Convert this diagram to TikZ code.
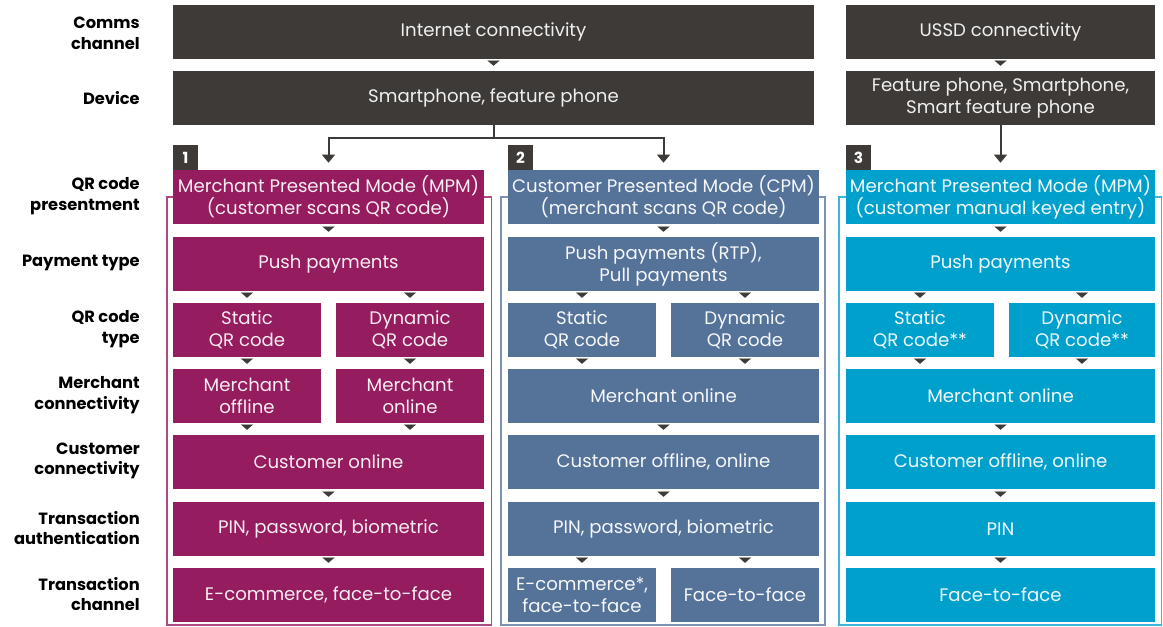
\documentclass[tikz,border=0pt]{standalone}
\usepackage{fontspec}
\setmainfont{Poppins}
\usetikzlibrary{arrows.meta,calc}
\definecolor{dark}{HTML}{3E3A37}
\definecolor{mag}{HTML}{951C5F}
\definecolor{slate}{HTML}{557299}
\definecolor{cyan}{HTML}{00A0CD}
\definecolor{magframe}{HTML}{B04A84}
\definecolor{slateframe}{HTML}{7D93B5}
\definecolor{cyanframe}{HTML}{3DB4DB}
\tikzset{
  bx/.style={rectangle, inner sep=0pt, align=center, font=\fontsize{13.6pt}{16.5pt}\selectfont},
  topc/.style={text=white!92!dark},
  c1/.style={text=white!92!mag},
  c2/.style={text=white!94!slate},
  c3/.style={text=white!94!cyan},
  lbl/.style={anchor=east, inner sep=0pt, align=right, font=\fontsize{12.2pt}{15.5pt}\selectfont\bfseries, text=black},
  badge/.style={rectangle, fill=dark, text=white, inner sep=0pt, minimum width=18.75pt, minimum height=18.75pt, font=\fontsize{11.5pt}{12pt}\selectfont\bfseries},
  gapar/.style={draw=dark, line width=0.1pt, shorten <=2.25pt, shorten >=3.75pt, -{Triangle[width=9pt,length=3.9pt]}},
  conn/.style={draw=dark, line width=1.5pt, shorten >=5.25pt, -{Triangle[width=9.5pt,length=6pt]}},
  frame/.style={line width=1.3pt},
}
\newcommand\bx[8]{\node[bx, #7, fill=#6, minimum width={(#4-#2)*0.75pt}, minimum height={(#5-#3)*0.75pt}] (#1) at ({(#2+#4)/2},{(#3+#5)/2}) {#8};}
\begin{document}
\begin{tikzpicture}[x=0.75pt,y=-0.75pt]
\useasboundingbox (0,0) rectangle (1163,627);
% frames
\draw[frame, magframe] (167,197) rectangle (491.5,625);
\draw[frame, slateframe] (501,197) rectangle (825,625);
\draw[frame, cyanframe] (839,197) rectangle (1161.5,625);
% labels
\node[lbl] (l0) at (140,33) {Comms\\channel};
\node[lbl] (l1) at (140,98) {Device};
\node[lbl] (l2) at (140,196) {QR code\\presentment};
\node[lbl] (l3) at (140,263) {Payment type};
\node[lbl] (l4) at (140,329) {QR code\\type};
\node[lbl] (l5) at (140,395) {Merchant\\connectivity};
\node[lbl] (l6) at (140,461) {Customer\\connectivity};
\node[lbl] (l7) at (140,528) {Transaction\\authentication};
\node[lbl] (l8) at (140,594) {Transaction\\channel};
% top rows
\bx{com1}{173}{5}{814}{59}{dark}{topc}{Internet connectivity}
\bx{com3}{846}{5}{1155}{59}{dark}{topc}{USSD connectivity}
\bx{dev1}{173}{71}{814}{125}{dark}{topc}{Smartphone, feature phone}
\bx{dev3}{846}{71}{1155}{125}{dark}{topc}{Feature phone, Smartphone,\\Smart feature phone}
% column 1
\bx{p1}{173}{170}{484}{224}{mag}{c1}{Merchant Presented Mode (MPM)\\(customer scans QR code)}
\bx{pay1}{173}{237}{484}{291}{mag}{c1}{Push payments}
\bx{st1}{173}{303}{321}{357}{mag}{c1}{Static\\QR code}
\bx{dy1}{336}{303}{484}{357}{mag}{c1}{Dynamic\\QR code}
\bx{mf1}{173}{369}{321}{423}{mag}{c1}{Merchant\\offline}
\bx{mn1}{336}{369}{484}{423}{mag}{c1}{Merchant\\online}
\bx{cu1}{173}{435}{484}{489}{mag}{c1}{Customer online}
\bx{au1}{173}{502}{484}{556}{mag}{c1}{PIN, password, biometric}
\bx{ch1}{173}{568}{484}{622}{mag}{c1}{E-commerce, face-to-face}
% column 2
\bx{p2}{508}{170}{819}{224}{slate}{c2}{Customer Presented Mode (CPM)\\(merchant scans QR code)}
\bx{pay2}{508}{237}{819}{291}{slate}{c2}{Push payments (RTP),\\Pull payments}
\bx{st2}{508}{303}{656}{357}{slate}{c2}{Static\\QR code}
\bx{dy2}{671}{303}{819}{357}{slate}{c2}{Dynamic\\QR code}
\bx{mn2}{508}{369}{819}{423}{slate}{c2}{Merchant online}
\bx{cu2}{508}{435}{819}{489}{slate}{c2}{Customer offline, online}
\bx{au2}{508}{502}{819}{556}{slate}{c2}{PIN, password, biometric}
\bx{ec2}{508}{568}{656}{622}{slate}{c2}{E-commerce*,\\face-to-face}
\bx{ff2}{671}{568}{819}{622}{slate}{c2}{Face-to-face}
% column 3
\bx{p3}{846}{170}{1155}{224}{cyan}{c3}{Merchant Presented Mode (MPM)\\(customer manual keyed entry)}
\bx{pay3}{846}{237}{1155}{291}{cyan}{c3}{Push payments}
\bx{st3}{846}{303}{994}{357}{cyan}{c3}{Static\\QR code**}
\bx{dy3}{1009}{303}{1155}{357}{cyan}{c3}{Dynamic\\QR code**}
\bx{mn3}{846}{369}{1155}{423}{cyan}{c3}{Merchant online}
\bx{cu3}{846}{435}{1155}{489}{cyan}{c3}{Customer offline, online}
\bx{au3}{846}{502}{1155}{556}{cyan}{c3}{PIN}
\bx{ch3}{846}{568}{1155}{622}{cyan}{c3}{Face-to-face}
% badges
\node[badge] (b1) at (185.5,157.5) {1};
\node[badge] (b2) at (520.5,157.5) {2};
\node[badge] (b3) at (858.5,157.5) {3};
% big connectors
\draw[conn] (dev1.south) -- ++(0,13) coordinate (jn) -| (p1.north);
\draw[conn] (jn) -| (p2.north);
\draw[conn] (dev3.south) -- (p3.north);
% gap arrows
\draw[gapar] (com1.south) -- (dev1.north);
\draw[gapar] (com3.south) -- (dev3.north);
% col1
\draw[gapar] (p1.south) -- (pay1.north);
\draw[gapar] (pay1.south -| st1.north) -- (st1.north);
\draw[gapar] (pay1.south -| dy1.north) -- (dy1.north);
\draw[gapar] (st1.south) -- (mf1.north);
\draw[gapar] (dy1.south) -- (mn1.north);
\draw[gapar] (mf1.south) -- (cu1.north -| mf1.south);
\draw[gapar] (mn1.south) -- (cu1.north -| mn1.south);
\draw[gapar] (cu1.south) -- (au1.north);
\draw[gapar] (au1.south) -- (ch1.north);
% col2
\draw[gapar] (p2.south) -- (pay2.north);
\draw[gapar] (pay2.south -| st2.north) -- (st2.north);
\draw[gapar] (pay2.south -| dy2.north) -- (dy2.north);
\draw[gapar] (st2.south) -- (mn2.north -| st2.south);
\draw[gapar] (dy2.south) -- (mn2.north -| dy2.south);
\draw[gapar] (mn2.south) -- (cu2.north);
\draw[gapar] (cu2.south) -- (au2.north);
\draw[gapar] (au2.south -| ec2.north) -- (ec2.north);
\draw[gapar] (au2.south -| ff2.north) -- (ff2.north);
% col3
\draw[gapar] (p3.south) -- (pay3.north);
\draw[gapar] (pay3.south -| st3.north) -- (st3.north);
\draw[gapar] (pay3.south -| dy3.north) -- (dy3.north);
\draw[gapar] (st3.south) -- (mn3.north -| st3.south);
\draw[gapar] (dy3.south) -- (mn3.north -| dy3.south);
\draw[gapar] (mn3.south) -- (cu3.north);
\draw[gapar] (cu3.south) -- (au3.north);
\draw[gapar] (au3.south) -- (ch3.north);
\end{tikzpicture}
\end{document}
